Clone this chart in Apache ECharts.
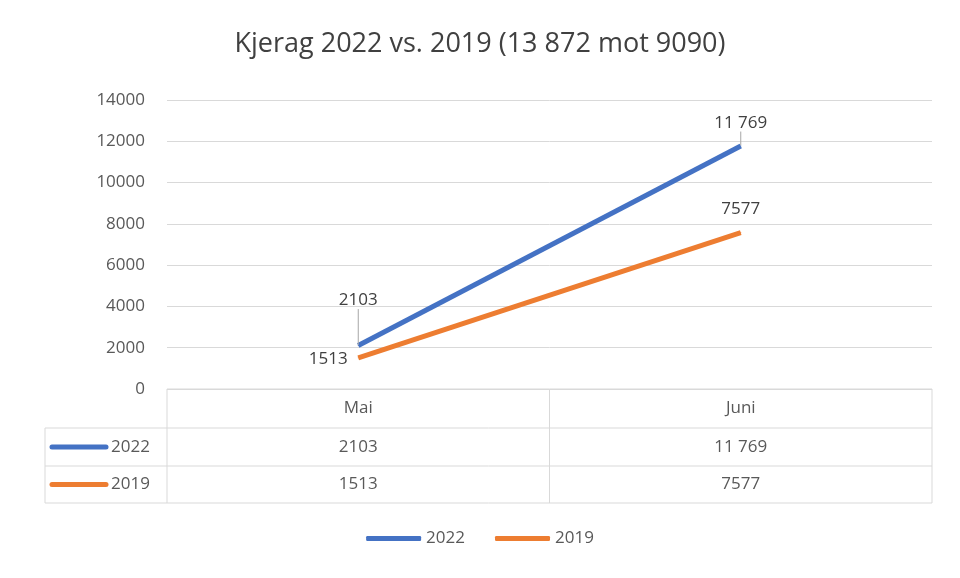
<!DOCTYPE html>
<html><head><meta charset="utf-8">
<script src="https://cdn.jsdelivr.net/npm/echarts@6/dist/echarts.min.js"></script>
<style>html,body{margin:0;padding:0;background:#fff}#c{width:960px;height:578px}</style>
</head><body><div id="c"></div>
<script>
const categories = ['Mai', 'Juni'];
const seriesNames = ['2022', '2019'];
const values2022 = [2103, 11769];
const values2019 = [1513, 7577];
const yTicks = [0, 2000, 4000, 6000, 8000, 10000, 12000, 14000];
const colors = ['#4472c4', '#ed7d31'];
const fmt = n => n >= 10000 ? String(n).replace(/\B(?=(\d{3})+(?!\d))/g, ' ') : String(n);

const chart = echarts.init(document.getElementById('c'));
const gL = 167, gR = 932, gB = 389;
const colX = [45, gL, (gL + gR) / 2, gR];
const rowY = [389, 428, 466, 503];
const font = 'Open Sans, Noto Sans, sans-serif';
const lc = '#d9d9d9';
const g = [];
for (let i = 0; i < rowY.length; i++) {
  const x0 = i === 0 ? gL : colX[0];
  g.push({type:'line', shape:{x1:x0, y1:rowY[i], x2:gR, y2:rowY[i]}, style:{stroke:lc, lineWidth:1}});
}
g.push({type:'line', shape:{x1:colX[0], y1:rowY[1], x2:colX[0], y2:rowY[3]}, style:{stroke:lc}});
for (let j = 1; j < colX.length; j++)
  g.push({type:'line', shape:{x1:colX[j], y1:rowY[0], x2:colX[j], y2:rowY[3]}, style:{stroke:lc}});
categories.forEach((c, j) => g.push({type:'text', x:(colX[j+1]+colX[j+2])/2, y:(rowY[0]+rowY[1])/2,
  style:{text:c, fill:'#595959', font:'17px '+font, align:'center', verticalAlign:'middle'}}));
[values2022, values2019].forEach((vals, r) => {
  const cy = (rowY[r+1] + rowY[r+2]) / 2;
  g.push({type:'line', shape:{x1:52, y1:cy, x2:106, y2:cy}, style:{stroke:colors[r], lineWidth:5, lineCap:'round'}});
  g.push({type:'text', x:111, y:cy, style:{text:seriesNames[r], fill:'#595959', font:'17px '+font, verticalAlign:'middle'}});
  vals.forEach((v, j) => g.push({type:'text', x:(colX[j+1]+colX[j+2])/2, y:cy,
    style:{text:fmt(v), fill:'#595959', font:'17px '+font, align:'center', verticalAlign:'middle'}}));
});

const lbl = {show:true, position:'top', distance:14, color:'#404040', fontSize:17, fontFamily:font, formatter:p=>fmt(p.value)};
chart.setOption({
  backgroundColor:'#fff',
  title:{text:'Kjerag 2022 vs. 2019 (13 872 mot 9090)', left:'center', top:26,
    textStyle:{fontFamily:font, fontSize:27, fontWeight:'normal', color:'#404040'}},
  grid:{left:gL, right:960-gR, top:100, bottom:578-gB},
  xAxis:{type:'category', data:categories, boundaryGap:true, axisLabel:{show:false}, axisTick:{show:false}, axisLine:{show:false}},
  yAxis:{type:'value', min:yTicks[0], max:yTicks[yTicks.length-1], interval:2000,
    axisLabel:{color:'#595959', fontSize:17, fontFamily:font, margin:22, formatter:v=>String(v)},
    splitLine:{lineStyle:{color:lc}}, axisLine:{show:false}, axisTick:{show:false}},
  legend:{bottom:26, left:'center', itemWidth:55, itemHeight:5, itemGap:30, icon:'roundRect',
    textStyle:{color:'#595959', fontSize:17, fontFamily:font}, data:seriesNames},
  series:[
    {name:seriesNames[0], type:'line', data:values2022, symbol:'circle', symbolSize:1, lineStyle:{width:5, color:colors[0]}, itemStyle:{color:colors[0]},
     label:lbl, labelLine:{show:true, lineStyle:{color:'#a6a6a6'}},
     labelLayout:p=>p.dataIndex===0?{dy:-22}:{}},
    {name:seriesNames[1], type:'line', data:values2019, symbol:'circle', symbolSize:1, lineStyle:{width:5, color:colors[1]}, itemStyle:{color:colors[1]},
     label:lbl, labelLayout:p=>p.dataIndex===0?{dx:-30, dy:24}:{}}
  ],
  graphic:g
});
</script></body></html>
